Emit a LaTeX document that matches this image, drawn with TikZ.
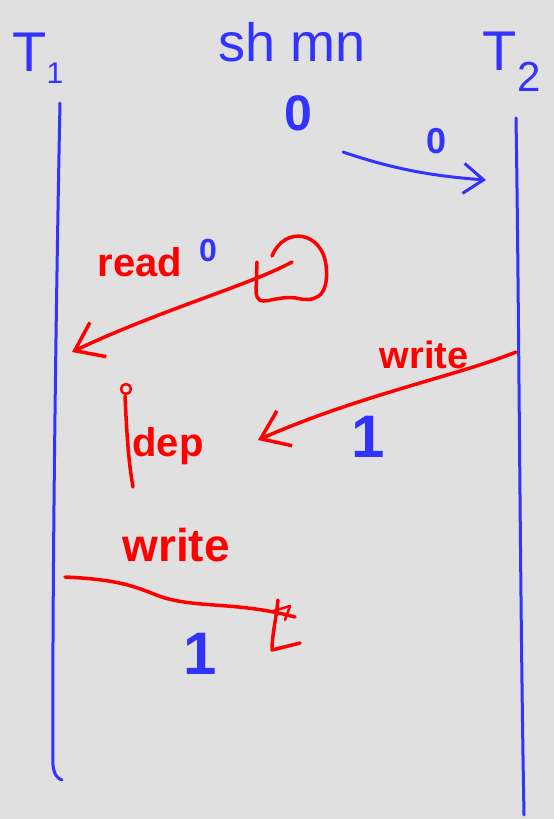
\documentclass[tikz,border=0pt]{standalone}
\usepackage{fontspec}
\setmainfont{Liberation Sans}
\usetikzlibrary{arrows.meta}
\definecolor{penblue}{RGB}{51,51,255}
\definecolor{penred}{RGB}{255,0,0}
\definecolor{board}{RGB}{224,224,224}
\tikzset{
  bluepen/.style={draw=penblue, line width=3pt, line cap=round, line join=round},
  redpen/.style={draw=penred, line width=3.5pt, line cap=round, line join=round},
  barb/.style={-{Straight Barb[length=26pt, width=38pt, line width=3.5pt]}},
  bluetext/.style={text=penblue, inner sep=0pt},
  redtext/.style={text=penred, inner sep=0pt},
}
\begin{document}
\begin{tikzpicture}[x=1pt, y=-1pt]
  % board
  \fill[board] (0,0) rectangle (554,819);
  \useasboundingbox (0,0) rectangle (554,819);

  % thread labels and shared memory
  \node[bluetext, font=\fontsize{56}{58}\selectfont] (t1) at (38,58) {T\textsubscript{\fontsize{30}{32}\selectfont 1}};
  \node[bluetext, font=\fontsize{56}{58}\selectfont] (t2) at (512,62) {T\textsubscript{\fontsize{42}{44}\selectfont 2}};
  \node[bluetext, font=\fontsize{54}{58}\selectfont] (shm) at (292,42) {sh mn};
  \node[bluetext, font=\bfseries\fontsize{50}{52}\selectfont] (init) at (298,113) {0};

  % lifelines
  \coordinate (l1top) at (60,103);
  \coordinate (l1bot) at (62,780);
  \coordinate (l2top) at (516,118);
  \coordinate (l2bot) at (524,815);
  \draw[bluepen] (l1top) .. controls (56,300) and (52,600) .. (53,765) .. controls (54,775) and (58,779) .. (l1bot);
  \draw[bluepen] (l2top) .. controls (519,300) and (520,600) .. (l2bot);

  % initial value handed to T2
  \coordinate (fetchA) at (343,152);
  \coordinate (fetchB) at (486,180);
  \draw[bluepen, -{Straight Barb[length=20pt, width=30pt, line width=3pt]}] (fetchA) .. controls (390,168) and (430,176) .. (fetchB);
  \node[bluetext, font=\bfseries\fontsize{36}{38}\selectfont] (v0) at (437,141) {0};

  % T1 reads 0
  \node[redtext, font=\bfseries\fontsize{40}{44}\selectfont] (read) at (140,262) {read};
  \node[bluetext, font=\bfseries\fontsize{32}{34}\selectfont] (r0) at (208,250) {0};
  \coordinate (loopA) at (292,262);
  \coordinate (readend) at (72,352);
  \draw[redpen] (272,256) .. controls (285,225) and (322,232) .. (326,265)
        .. controls (330,300) and (312,302) .. (296,298)
        .. controls (272,295) and (258,310) .. (256,292) -- (257,262);
  \draw[redpen, barb] (loopA) .. controls (250,285) and (160,310) .. (readend);

  % T2 writes 1
  \node[redtext, font=\bfseries\fontsize{38}{42}\selectfont] (wr2) at (424,355) {write};
  \coordinate (wstart) at (516,352);
  \coordinate (wend) at (258,440);
  \draw[redpen, barb] (wstart) .. controls (460,375) and (360,395) .. (wend);
  \node[bluetext, font=\bfseries\fontsize{60}{62}\selectfont] (w1) at (368,437) {1};

  % dependency
  \coordinate (depA) at (125,396);
  \coordinate (depB) at (133,487);
  \draw[redpen, line width=2.5pt] (126,389) circle (5pt);
  \draw[redpen] (depA) .. controls (127,440) and (129,465) .. (depB);
  \node[redtext, font=\bfseries\fontsize{40}{44}\selectfont] (dep) at (168,446) {dep};

  % T1 writes 1
  \node[redtext, font=\bfseries\fontsize{46}{50}\selectfont] (wr1) at (176,545) {write};
  \coordinate (bA) at (65,577);
  \coordinate (bB) at (295,617);
  \draw[redpen] (bA) .. controls (130,580) and (140,590) .. (165,598)
        .. controls (200,608) and (240,602) .. (bB);
  \draw[redpen] (278,600) .. controls (276,620) and (272,635) .. (272,650) -- (300,643);
  \draw[redpen, line width=2.5pt] (270,612) -- (290,606) -- (285,620);
  \node[bluetext, font=\bfseries\fontsize{60}{62}\selectfont] (b1) at (200,654) {1};
\end{tikzpicture}
\end{document}
